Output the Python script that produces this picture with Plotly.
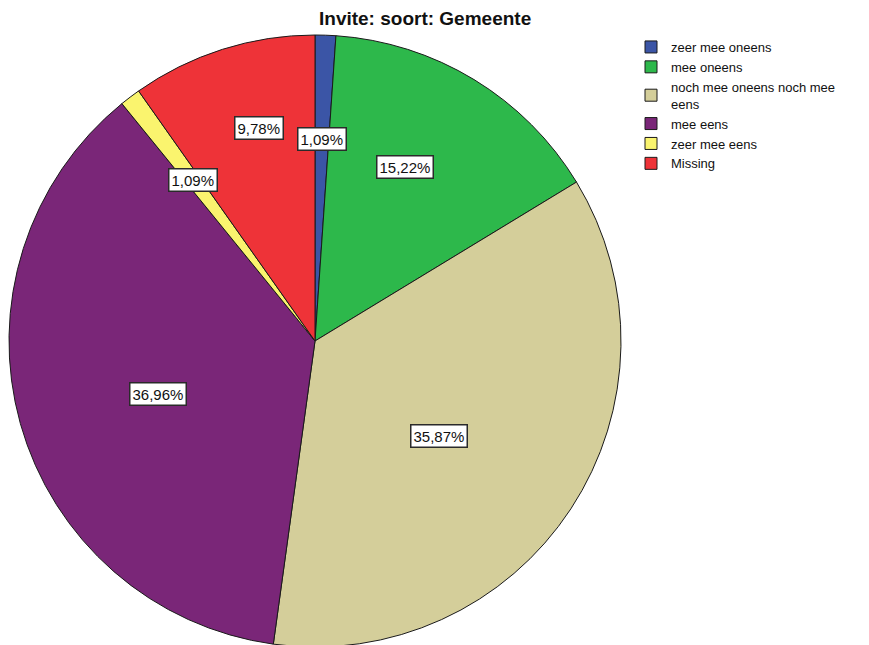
import math
import plotly.graph_objects as go

# Responses to "Invite: soort: Gemeente" (counts out of 92)
categories = ["zeer mee oneens", "mee oneens", "noch mee oneens noch mee<br>eens",
              "mee eens", "zeer mee eens", "Missing"]
percentages = [1.09, 15.22, 35.87, 36.96, 1.09, 9.78]
label_texts = ["1,09%", "15,22%", "35,87%", "36,96%", "1,09%", "9,78%"]

colors = ["#3B55A6", "#2DB84B", "#D4CE9A", "#7A2678", "#FAF46E", "#EE3338"]

W, H = 869, 700
cx, cy, R = 315, 341, 306            # pie centre / radius in pixels (from top-left)
label_radius = [0.66, 0.64, 0.51, 0.54, 0.66, 0.72]   # label distance as a fraction of R
label_shift = [0, -4, 4, -3, 0, 3]                    # small angular nudges (degrees)

FONT = "Liberation Sans, Arial, sans-serif"

fig = go.Figure()
fig.add_trace(go.Pie(
    labels=categories,
    values=percentages,
    sort=False,
    direction="clockwise",
    rotation=0,
    marker=dict(colors=colors, line=dict(color="#1a1a1a", width=1)),
    textinfo="none",
    hoverinfo="label+percent",
    domain=dict(x=[(cx - R) / W, (cx + R) / W],
                y=[(H - cy - R) / H, (H - cy + R) / H]),
))

# percentage labels in white boxes, placed along each slice's mid angle
total = sum(percentages)
start = 0.0
for val, txt, rf, sh in zip(percentages, label_texts, label_radius, label_shift):
    mid = (start + val / 2) / total * 360 + sh
    start += val
    px = cx + rf * R * math.sin(math.radians(mid))
    py = cy - rf * R * math.cos(math.radians(mid))
    fig.add_annotation(
        x=px / W, y=1 - py / H, xref="paper", yref="paper",
        text=txt, showarrow=False,
        font=dict(family=FONT, size=15, color="#111"),
        bgcolor="white", bordercolor="#2a2a2a", borderwidth=1.5, borderpad=2,
        xanchor="center", yanchor="middle",
    )

fig.add_annotation(
    x=425 / W, y=1 - 19 / H, xref="paper", yref="paper",
    text="<b>Invite: soort: Gemeente</b>", showarrow=False,
    font=dict(family=FONT, size=19, color="#111"),
    xanchor="center", yanchor="middle",
)

fig.update_layout(
    width=W, height=H,
    margin=dict(l=0, r=0, t=0, b=0),
    paper_bgcolor="white",
    showlegend=True,
    legend=dict(
        x=631 / W, y=1 - 32 / H, xanchor="left", yanchor="top",
        font=dict(family=FONT, size=13, color="#111"),
        itemwidth=30, tracegroupgap=0,
        bgcolor="rgba(0,0,0,0)",
    ),
)

fig.write_html(
    "out.html",
    post_script="document.body.style.margin='0';document.body.style.overflow='hidden';"
                "document.documentElement.style.overflow='hidden';",
)
